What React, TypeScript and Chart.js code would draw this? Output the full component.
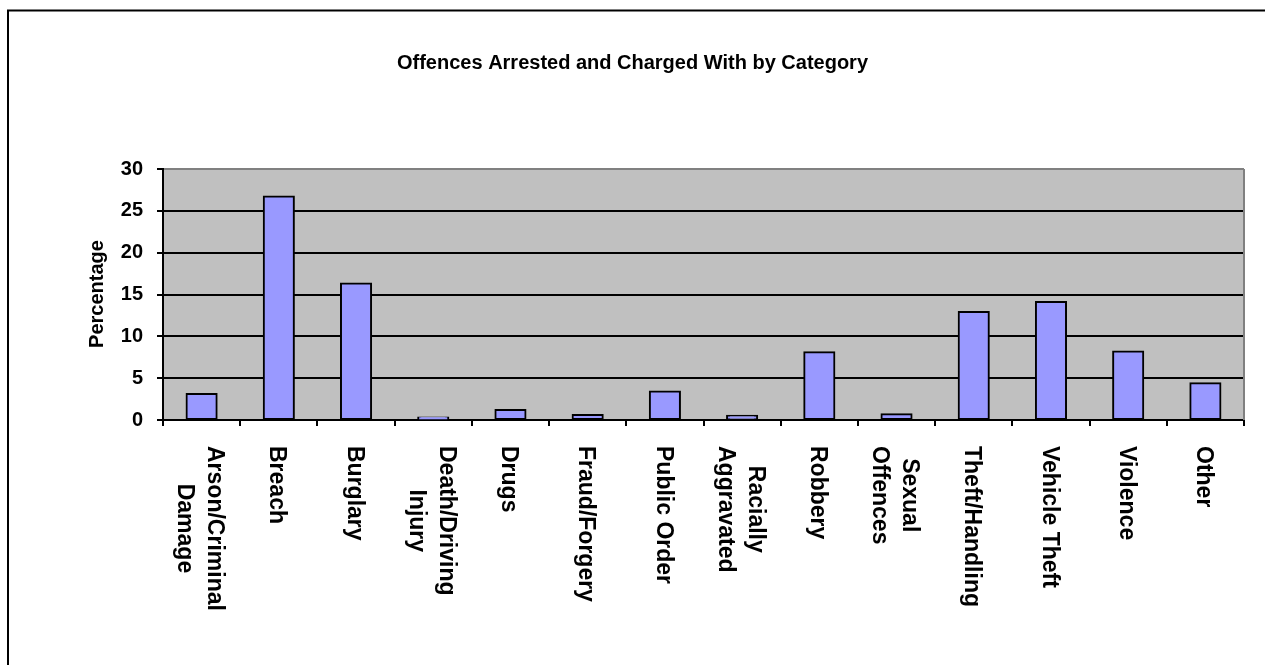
import React, { useEffect, useRef } from "react";
import { Chart, registerables } from "chart.js";

Chart.register(...registerables);

const chartTitle = "Offences Arrested and Charged With by Category";
const yAxisTitle = "Percentage";
const categories: string[][] = [
  ["Arson/Criminal", "Damage"],
  ["Breach"],
  ["Burglary"],
  ["Death/Driving", "Injury"],
  ["Drugs"],
  ["Fraud/Forgery"],
  ["Public Order"],
  ["Racially", "Aggravated"],
  ["Robbery"],
  ["Sexual", "Offences"],
  ["Theft/Handling"],
  ["Vehicle Theft"],
  ["Violence"],
  ["Other"],
];
const percentages = [3.1, 26.7, 16.3, 0.3, 1.2, 0.6, 3.4, 0.5, 8.1, 0.7, 12.9, 14.1, 8.2, 4.4];
const yTicks = [0, 5, 10, 15, 20, 25, 30];

const W = 1265;
const H = 665;
const FONT = '"Liberation Sans", Arial, sans-serif';

const decorPlugin = {
  id: "decor",
  beforeDraw(chart: any) {
    const { ctx, chartArea } = chart;
    ctx.save();
    ctx.fillStyle = "#ffffff";
    ctx.fillRect(0, 0, W, H);
    ctx.fillStyle = "#C0C0C0";
    ctx.fillRect(chartArea.left, chartArea.top, chartArea.right - chartArea.left, chartArea.bottom - chartArea.top);
    ctx.restore();
  },
  afterDraw(chart: any) {
    const { ctx, chartArea } = chart;
    const xs = chart.scales.x;
    ctx.save();
    // outer frame (left + top visible)
    ctx.strokeStyle = "#000";
    ctx.lineWidth = 2;
    ctx.beginPath();
    ctx.moveTo(8, H);
    ctx.lineTo(8, 10.5);
    ctx.lineTo(W, 10.5);
    ctx.stroke();
    // right plot border
    ctx.strokeStyle = "#808080";
    ctx.beginPath();
    ctx.moveTo(chartArea.right, chartArea.top);
    ctx.lineTo(chartArea.right, chartArea.bottom);
    ctx.stroke();
    // title
    ctx.fillStyle = "#000";
    ctx.font = `bold 20px ${FONT}`;
    ctx.textAlign = "center";
    ctx.textBaseline = "middle";
    ctx.fillText(chartTitle, W / 2, 63);
    // y title
    ctx.save();
    ctx.translate(97, 294);
    ctx.rotate(-Math.PI / 2);
    ctx.fillText(yAxisTitle, 0, 0);
    ctx.restore();
    // x labels rotated clockwise
    ctx.font = `bold 23px ${FONT}`;
    const spacing = 30;
    categories.forEach((lines, i) => {
      const cx = xs.getPixelForValue(i) - 2;
      const maxW = Math.max(...lines.map((l) => ctx.measureText(l).width));
      ctx.save();
      ctx.translate(cx, 446);
      ctx.rotate(Math.PI / 2);
      lines.forEach((l, j) => {
        const off = (j - (lines.length - 1) / 2) * spacing;
        ctx.fillText(l, maxW / 2, off);
      });
      ctx.restore();
    });
    ctx.restore();
  },
};

export default function App() {
  const ref = useRef<HTMLCanvasElement>(null);
  useEffect(() => {
    if (!ref.current) return;
    const chart = new Chart(ref.current, {
      type: "bar",
      data: {
        labels: categories,
        datasets: [
          {
            data: percentages,
            backgroundColor: "#9999FF",
            borderColor: "#000000",
            borderWidth: 2,
            borderSkipped: false,
            inflateAmount: 1,
            barPercentage: 0.39,
            categoryPercentage: 1,
          },
        ],
      },
      options: {
        animation: false,
        responsive: false,
        layout: { padding: { top: 169, right: 21, left: 0, bottom: 0 } },
        plugins: { legend: { display: false }, title: { display: false }, tooltip: { enabled: false } },
        scales: {
          x: {
            ticks: { display: false },
            grid: { offset: true, drawOnChartArea: false, drawTicks: true, tickLength: 6, color: "#000", lineWidth: 2 },
            border: { color: "#000", width: 2 },
            afterFit: (s: any) => {
              s.height = H - 420;
            },
          },
          y: {
            min: 0,
            max: 30,
            afterBuildTicks: (s: any) => {
              s.ticks = yTicks.map((v) => ({ value: v }));
            },
            ticks: {
              color: "#000",
              font: { family: FONT, size: 20, weight: "bold" },
              padding: 14,
            },
            grid: {
              color: (c: any) => (c.tick && c.tick.value === 30 ? "#808080" : "#000"),
              tickColor: "#000",
              lineWidth: 2,
              tickLength: 6,
            },
            border: { color: "#000", width: 2 },
            afterFit: (s: any) => {
              s.width = 163;
            },
          },
        },
      },
      plugins: [decorPlugin],
    } as any);
    return () => chart.destroy();
  }, []);
  return (
    <canvas
      ref={ref}
      width={W}
      height={H}
      style={{ position: "absolute", left: 0, top: 0, width: W, height: H }}
    />
  );
}
